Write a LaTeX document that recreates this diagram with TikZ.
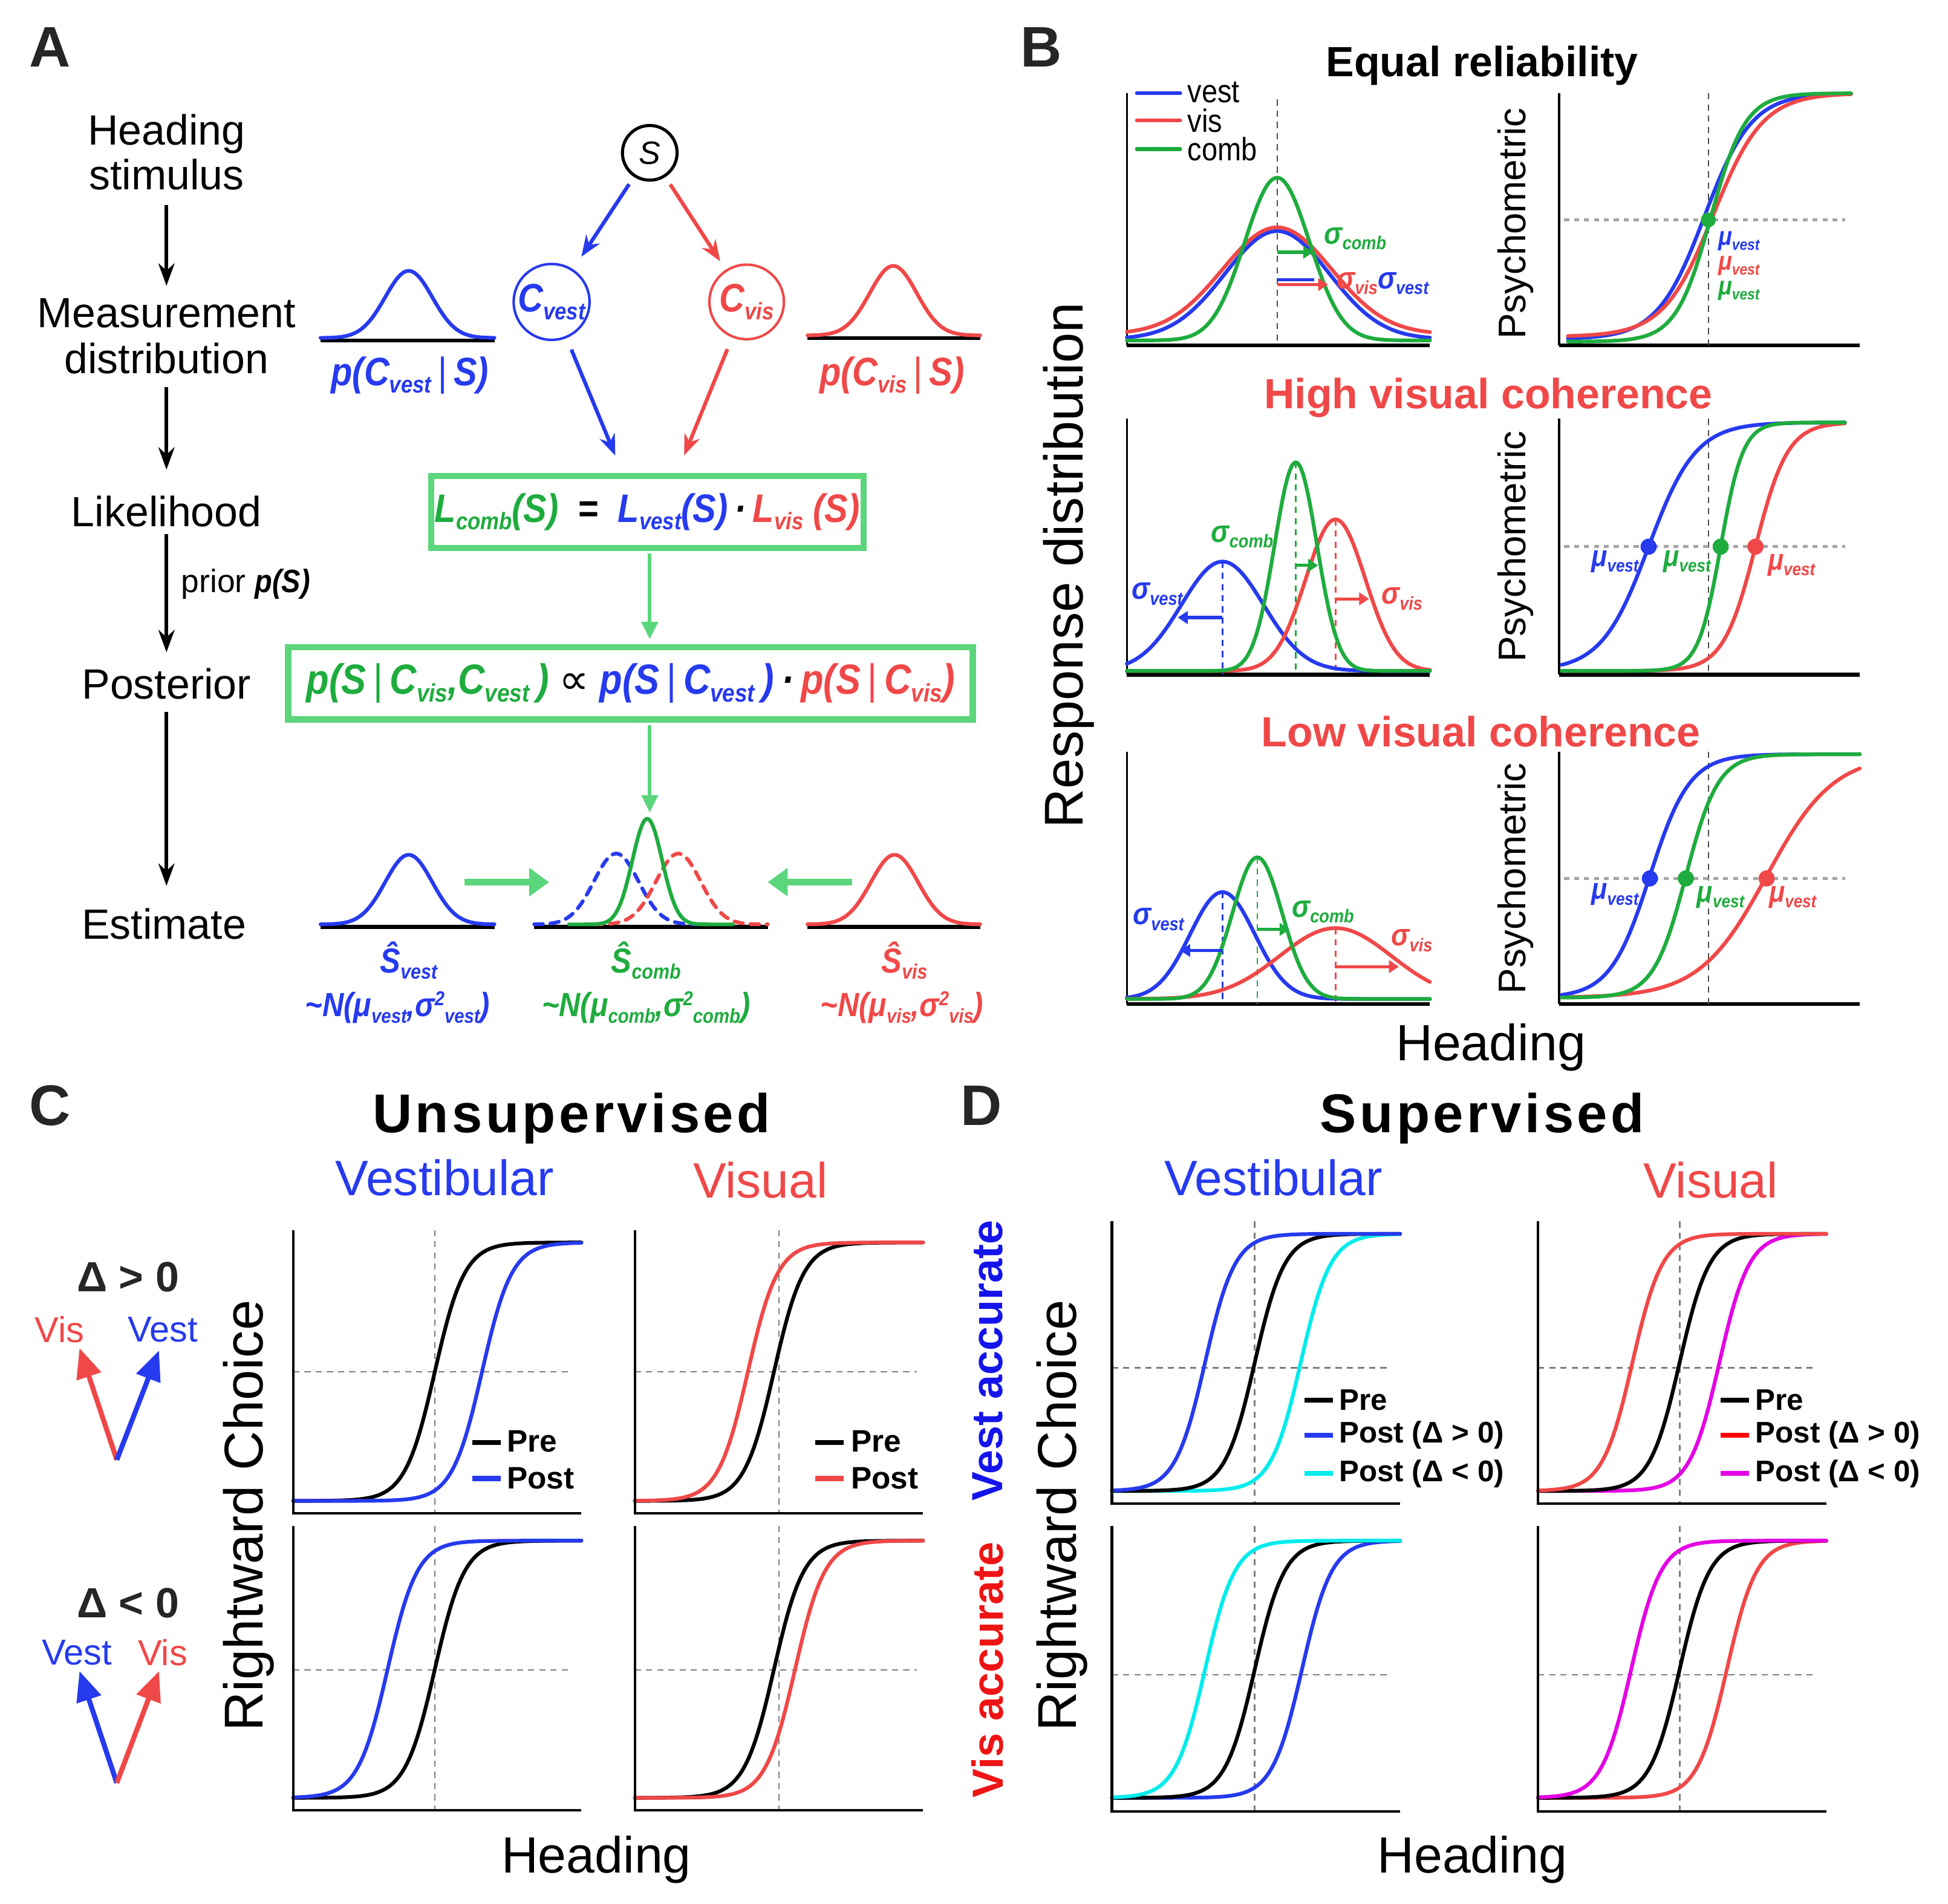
\documentclass[tikz,border=0pt]{standalone}
\usepackage{fontspec}
\usepackage{graphicx}
\setmainfont{Liberation Sans}
\newfontfamily\nbi[FakeStretch=0.88]{Liberation Sans}
\newfontfamily\dvs{DejaVu Sans}
\usetikzlibrary{arrows.meta,calc}
\definecolor{bC}{RGB}{38,58,238}
\definecolor{rC}{RGB}{240,72,72}
\definecolor{gC}{RGB}{30,172,62}
\definecolor{bxG}{RGB}{92,214,124}
\definecolor{cyC}{RGB}{0,236,236}
\definecolor{mgC}{RGB}{228,0,228}
\definecolor{dG}{RGB}{125,125,125}
\definecolor{vB}{RGB}{20,20,235}
\definecolor{vR}{RGB}{238,20,20}
\newcommand\fsz[2]{\fontsize{#1}{#2}\selectfont}
\newcommand\mi{\nbi\bfseries\itshape}
\newcommand\sbx[1]{\raisebox{-0.35ex}{\scalebox{0.6}{#1}}}
\newcommand\spx[1]{\raisebox{0.62ex}{\scalebox{0.6}{#1}}}
\newcommand\vb{{\upshape\mdseries|}}
\tikzset{
 declare function={gs(\t,\m,\s)=exp(-0.5*min(30,((\t-\m)/\s)*((\t-\m)/\s)));
                   sg(\t,\c,\s)=1/(1+exp(-max(-9,min(9,(\t-\c)/\s))));},
 lbl/.style={inner sep=0pt, outer sep=0pt},
 cv/.style={line width=3pt, line cap=round, line join=round},
 axl/.style={line width=1.6pt},
 axt/.style={line width=3pt},
 axc/.style={line width=2pt},
 dsh/.style={dash pattern=on 5pt off 4pt, line width=1.3pt, dG},
 dotl/.style={dash pattern=on 4pt off 4pt, line width=2.5pt, black!35},
 blkarr/.style={line width=3pt, -{Stealth[length=18pt,width=13pt]}},
 carr/.style={line width=3pt, -{Stealth[length=17pt,width=13pt]}},
 garr/.style={line width=3pt, bxG, -{Triangle[length=14pt,width=13pt]}},
 gbig/.style={line width=5pt, bxG, -{Triangle[length=16pt,width=22pt]}},
 sarr/.style={line width=2.5pt, -{Triangle[length=8pt,width=10pt]}},
 bigarr/.style={line width=4pt, -{Triangle[length=24pt,width=20pt]}},
 box/.style={draw=bxG, line width=5pt, inner sep=0pt},
}
\newcommand\gau[7]{\draw[cv,#1] plot[domain=#2:#3,samples=120] (\x,{#4-#5*gs(\x,#6,#7)});}
\newcommand\sgm[7]{\draw[cv,#1] plot[domain=#2:#3,samples=120] (\x,{#4-(#4-#5)*sg(\x,#6,#7)});}
\begin{document}
\begin{tikzpicture}[x=1pt,y=-1pt]
\useasboundingbox (0,0) rectangle (1568,1532);
\fill[white] (0,0) rectangle (1568,1532);
% ================= Panel A =================
\node[lbl,font=\fsz{46}{48}\bfseries,text=black!85] (lA) at (40,38) {A};
\node[lbl,font=\fsz{34}{36},align=center,anchor=north] (hs) at (134,92) {Heading\\stimulus};
\node[lbl,font=\fsz{34}{37},align=center,anchor=north] (ms) at (134,240) {Measurement\\distribution};
\node[lbl,font=\fsz{34}{36},anchor=north] (lk) at (134,399) {Likelihood};
\node[lbl,font=\fsz{34}{36},anchor=north] (po) at (134,538) {Posterior};
\node[lbl,font=\fsz{34}{36},anchor=north] (es) at (132,731) {Estimate};
\draw[blkarr,shorten <=12pt,shorten >=10pt] (hs.south) -- (ms.north);
\draw[blkarr,shorten <=11pt,shorten >=21pt] (ms.south) -- (lk.north);
\draw[blkarr,shorten <=6pt,shorten >=13pt] (lk.south) -- (po.north);
\draw[blkarr,shorten <=10pt,shorten >=18pt] (po.south) -- (po.south |- es.north);
\node[lbl,font=\fsz{26}{28},anchor=west] (pr) at (146,470) {prior {\mi p(S)}};

\node[circle,draw,line width=2.5pt,minimum size=44pt,inner sep=0pt,font=\fsz{26}{28}\itshape] (S) at (523,123) {S};
\node[circle,draw=bC,line width=2pt,minimum size=60pt,inner sep=0pt,text=bC,font=\fsz{32}{34}\mi] (Cv) at (444,243) {C\sbx{vest}};
\node[circle,draw=rC,line width=2pt,minimum size=60pt,inner sep=0pt,text=rC,font=\fsz{32}{34}\mi] (Cr) at (601,243) {C\sbx{vis}};

\node[box,minimum width=348pt,minimum height=58pt,font=\fsz{32}{34}\mi] (b1) at (521,412)
 {{\color{gC}L\sbx{comb}(S)} \ {=} \ {\color{bC}L\sbx{vest}(S)}\,·\,{\color{rC}L\sbx{vis} (S)}};
\node[box,minimum width=551pt,minimum height=58pt,font=\fsz{34}{36}\mi] (b2) at (507.5,550)
 {{\color{gC}p(S\,\vb\,C\sbx{vis},C\sbx{vest}\,)} {\dvs\mdseries\upshape ∝} {\color{bC}p(S\,\vb\,C\sbx{vest}\,)}\,·\,{\color{rC}p(S\,\vb\,C\sbx{vis})}};

\draw[carr,bC,shorten <=7pt,shorten >=12pt] (S) -- (Cv);
\draw[carr,rC,shorten <=7pt,shorten >=8pt] (S) -- (Cr);
\draw[carr,bC,shorten <=10pt,shorten >=15pt] (Cv) -- ([xshift=-20pt]b1.north);
\draw[carr,rC,shorten <=10pt,shorten >=15pt] (Cr) -- ([xshift=24pt]b1.north);
\draw[garr,shorten <=2pt,shorten >=4pt] (b1.south -| 523,0) -- (b2.north -| 523,0);
\coordinate (gtop) at (523,654);
\draw[garr,shorten <=2pt] (b2.south -| gtop) -- (gtop);

% measurement gaussians
\draw[line width=3pt] (258,274) -- (398,274);
\gau{bC}{258}{398}{272}{54}{329}{19}
\draw[line width=3pt] (650,272) -- (789,272);
\gau{rC}{650}{789}{270}{56}{719}{19}
\node[lbl,font=\fsz{32}{34}\mi,text=bC] (pcv) at (330,302) {p(C\sbx{vest}\,\vb\,S)};
\node[lbl,font=\fsz{32}{34}\mi,text=rC] (pcr) at (718,302) {p(C\sbx{vis}\,\vb\,S)};

% estimate gaussians
\draw[line width=3pt] (258,746) -- (398,746);
\gau{bC}{258}{398}{744}{56}{329}{19}
\draw[line width=3pt] (430,746) -- (618,746);
\draw[cv,bC,dash pattern=on 7pt off 6pt] plot[domain=430:565,samples=100] (\x,{744-57*gs(\x,496,18)});
\draw[cv,rC,dash pattern=on 7pt off 6pt] plot[domain=478:618,samples=100] (\x,{744-57*gs(\x,546,18)});
\gau{gC}{458}{590}{744}{85}{521}{12}
\draw[line width=3pt] (650,746) -- (789,746);
\gau{rC}{650}{789}{744}{56}{720}{19}
\coordinate (ea1) at (374,710); \coordinate (ea2) at (442,710);
\coordinate (ea3) at (686,710); \coordinate (ea4) at (618,710);
\draw[gbig] (ea1) -- (ea2);
\draw[gbig] (ea3) -- (ea4);
\node[lbl,font=\fsz{28}{30}\mi,text=bC] (sv) at (329,773) {Ŝ\sbx{vest}};
\node[lbl,font=\fsz{28}{30}\mi,text=gC] (sc) at (520,773) {Ŝ\sbx{comb}};
\node[lbl,font=\fsz{28}{30}\mi,text=rC] (sr) at (728,773) {Ŝ\sbx{vis}};
\node[lbl,font=\fsz{27}{29}\mi,text=bC] (nv) at (320,811) {\textasciitilde N(μ\sbx{vest},σ\spx{2}\sbx{vest})};
\node[lbl,font=\fsz{27}{29}\mi,text=gC] (nc) at (520,811) {\textasciitilde N(μ\sbx{comb},σ\spx{2}\sbx{comb})};
\node[lbl,font=\fsz{27}{29}\mi,text=rC] (nr) at (726,811) {\textasciitilde N(μ\sbx{vis},σ\spx{2}\sbx{vis})};

% ================= Panel B =================
\node[lbl,font=\fsz{46}{48}\bfseries,text=black!85] (lB) at (838,38) {B};
\node[lbl,font=\fsz{34}{36}\bfseries] (t1) at (1193,53) {Equal reliability};
\node[lbl,font=\fsz{34}{36}\bfseries,text=rC] (t2) at (1198,320) {High visual coherence};
\node[lbl,font=\fsz{34}{36}\bfseries,text=rC] (t3) at (1192,589) {Low visual coherence};
\node[lbl,font=\fsz{44}{46},rotate=90] (rd) at (860,455) {Response distribution};
\node[lbl,font=\fsz{31}{33},rotate=90] (ps1) at (1220,180) {Psychometric};
\node[lbl,font=\fsz{31}{33},rotate=90] (ps2) at (1220,440) {Psychometric};
\node[lbl,font=\fsz{31}{33},rotate=90] (ps3) at (1220,707) {Psychometric};
\node[lbl,font=\fsz{41}{43}] (hB) at (1200,843) {Heading};

% B row 1 left
\draw[axl] (907,75) -- (907,278);
\draw[axt] (907,278) -- (1151,278);
\draw[line width=1pt,dash pattern=on 5pt off 4pt,black!70] (1028,80) -- (1028,278);
\gau{bC}{907}{1151}{273}{87}{1028}{42}
\gau{rC}{907}{1151}{269}{86}{1028}{44}
\gau{gC}{907}{1151}{274}{131}{1028}{26}
\draw[cv,bC] (915,75) -- (950,75);
\draw[cv,rC] (915,97) -- (950,97);
\draw[cv,gC] (915,120) -- (950,120);
\node[lbl,font=\fsz{26}{28}\nbi,anchor=west] (lv1) at (956,74) {vest};
\node[lbl,font=\fsz{26}{28}\nbi,anchor=west] (lv2) at (956,97) {vis};
\node[lbl,font=\fsz{26}{28}\nbi,anchor=west] (lv3) at (956,120) {comb};
\draw[sarr,gC] (1028,203) -- (1057,203);
\draw[line width=2.5pt,bC] (1028,225) -- (1058,225);
\draw[sarr,rC] (1028,229) -- (1069,229);
\node[lbl,font=\fsz{25}{27}\mi,text=gC,anchor=west] (sc1) at (1066,192) {σ\sbx{comb}};
\node[lbl,font=\fsz{25}{27}\mi,anchor=west] (sv1) at (1076,228) {{\color{rC}σ\sbx{vis}}{\color{bC}σ\sbx{vest}}};
% B row 1 right
\draw[axl] (1255,75) -- (1255,278);
\draw[axt] (1255,278) -- (1497,278);
\draw[line width=1pt,dash pattern=on 5pt off 4pt,black!70] (1375,75) -- (1375,278);
\draw[dotl] (1259,177) -- (1485,177);
\sgm{bC}{1262}{1490}{273}{75}{1372}{19}
\sgm{rC}{1262}{1490}{271}{75}{1379}{20}
\sgm{gC}{1262}{1490}{275}{75}{1377}{14}
\fill[gC] (1375,177) circle (6pt);
\node[lbl,font=\fsz{21}{23}\mi,text=bC,anchor=west] (m11) at (1383,194) {μ\sbx{vest}};
\node[lbl,font=\fsz{21}{23}\mi,text=rC,anchor=west] (m12) at (1383,214) {μ\sbx{vest}};
\node[lbl,font=\fsz{21}{23}\mi,text=gC,anchor=west] (m13) at (1383,234) {μ\sbx{vest}};

% B row 2 left
\draw[axl] (907,337) -- (907,543);
\draw[axt] (907,543) -- (1151,543);
\draw[line width=1.3pt,dash pattern=on 5pt off 4pt,bC] (984,452) -- (984,543);
\draw[line width=1.3pt,dash pattern=on 5pt off 4pt,gC] (1043,372) -- (1043,543);
\draw[line width=1.3pt,dash pattern=on 5pt off 4pt,rC] (1075,418) -- (1075,543);
\gau{bC}{907}{1151}{540}{88}{984}{33}
\gau{rC}{907}{1151}{540}{122}{1075}{24}
\gau{gC}{907}{1151}{540}{168}{1043}{17}
\draw[sarr,bC] (984,497) -- (948,497);
\draw[sarr,gC] (1043,455) -- (1061,455);
\draw[sarr,rC] (1075,482) -- (1102,482);
\node[lbl,font=\fsz{25}{27}\mi,text=bC,anchor=west] (sv2) at (911,478) {σ\sbx{vest}};
\node[lbl,font=\fsz{25}{27}\mi,text=gC,anchor=west] (sc2) at (975,432) {σ\sbx{comb}};
\node[lbl,font=\fsz{25}{27}\mi,text=rC,anchor=west] (sr2) at (1112,482) {σ\sbx{vis}};
% B row 2 right
\draw[axl] (1255,337) -- (1255,543);
\draw[axt] (1255,543) -- (1497,543);
\draw[line width=1pt,dash pattern=on 5pt off 4pt,black!70] (1375,337) -- (1375,543);
\draw[dotl] (1259,440) -- (1485,440);
\sgm{bC}{1257}{1485}{540}{340}{1327}{19}
\sgm{rC}{1257}{1485}{540}{340}{1413}{13}
\sgm{gC}{1257}{1485}{540}{340}{1385}{9}
\fill[bC] (1327,440) circle (6.5pt);
\fill[gC] (1385,440) circle (6.5pt);
\fill[rC] (1413,440) circle (6.5pt);
\node[lbl,font=\fsz{24}{26}\mi,text=bC] (m21) at (1300,452) {μ\sbx{vest}};
\node[lbl,font=\fsz{24}{26}\mi,text=gC] (m22) at (1358,452) {μ\sbx{vest}};
\node[lbl,font=\fsz{24}{26}\mi,text=rC] (m23) at (1442,455) {μ\sbx{vest}};

% B row 3 left
\draw[axl] (907,605) -- (907,808);
\draw[axt] (907,808) -- (1151,808);
\draw[line width=1.3pt,dash pattern=on 5pt off 4pt,bC] (984,718) -- (984,808);
\draw[line width=1.3pt,dash pattern=on 5pt off 4pt,gC] (1012,690) -- (1012,808);
\draw[line width=1.3pt,dash pattern=on 5pt off 4pt,rC] (1075,747) -- (1075,808);
\gau{bC}{907}{1151}{804}{86}{984}{26}
\gau{rC}{907}{1151}{804}{57}{1075}{45}
\gau{gC}{907}{1151}{804}{114}{1012}{20}
\draw[sarr,bC] (984,765) -- (950,765);
\draw[sarr,gC] (1012,748) -- (1038,748);
\draw[sarr,rC] (1075,778) -- (1126,778);
\node[lbl,font=\fsz{25}{27}\mi,text=bC,anchor=west] (sv3) at (912,740) {σ\sbx{vest}};
\node[lbl,font=\fsz{25}{27}\mi,text=gC,anchor=west] (sc3) at (1040,734) {σ\sbx{comb}};
\node[lbl,font=\fsz{25}{27}\mi,text=rC,anchor=west] (sr3) at (1120,757) {σ\sbx{vis}};
% B row 3 right
\draw[axl] (1255,605) -- (1255,808);
\draw[axt] (1255,808) -- (1497,808);
\draw[line width=1pt,dash pattern=on 5pt off 4pt,black!70] (1375,605) -- (1375,808);
\draw[dotl] (1259,707) -- (1485,707);
\sgm{rC}{1257}{1497}{803}{607}{1422}{27}
\sgm{bC}{1257}{1497}{803}{607}{1328}{16}
\sgm{gC}{1257}{1497}{803}{607}{1357}{13}
\fill[bC] (1328,707) circle (6.5pt);
\fill[gC] (1357,707) circle (6.5pt);
\fill[rC] (1422,707) circle (6.5pt);
\node[lbl,font=\fsz{24}{26}\mi,text=bC] (m31) at (1300,720) {μ\sbx{vest}};
\node[lbl,font=\fsz{24}{26}\mi,text=gC] (m32) at (1385,722) {μ\sbx{vest}};
\node[lbl,font=\fsz{24}{26}\mi,text=rC] (m33) at (1443,722) {μ\sbx{vest}};

% ================= Panel C =================
\node[lbl,font=\fsz{46}{48}\bfseries,text=black!85] (lC) at (40,890) {C};
\node[lbl,font=\fsz{44}{46}\bfseries\addfontfeatures{LetterSpace=6}] (tU) at (460,900) {Unsupervised};
\node[lbl,font=\fsz{40}{42},text=bC] (cvt) at (358,948) {Vestibular};
\node[lbl,font=\fsz{40}{42},text=rC] (cvs) at (612,950) {Visual};
\node[lbl,font=\fsz{44}{46},rotate=90] (rcC) at (200,1220) {Rightward Choice};
\node[lbl,font=\fsz{41}{43}] (hC) at (480,1497) {Heading};
\node[lbl,font=\fsz{34}{36}\bfseries,text=black!85] (dp) at (103,1028) {Δ > 0};
\node[lbl,font=\fsz{29}{31},text=rC] (vis1) at (48,1070) {Vis};
\node[lbl,font=\fsz{29}{31},text=bC] (ves1) at (131,1070) {Vest};
\node[lbl,font=\fsz{34}{36}\bfseries,text=black!85] (dn) at (103,1290) {Δ < 0};
\node[lbl,font=\fsz{29}{31},text=bC] (ves2) at (62,1330) {Vest};
\node[lbl,font=\fsz{29}{31},text=rC] (vis2) at (131,1330) {Vis};
\coordinate (o1) at (94,1175); \coordinate (t1r) at (64,1085); \coordinate (t1b) at (128,1087);
\coordinate (o2) at (94,1435); \coordinate (t2b) at (64,1345); \coordinate (t2r) at (128,1345);
\draw[bigarr,rC] (o1) -- (t1r);
\draw[bigarr,bC] (o1) -- (t1b);
\draw[bigarr,bC] (o2) -- (t2b);
\draw[bigarr,rC] (o2) -- (t2r);
% C top-left
\draw[dsh] (350,990) -- (350,1218);
\draw[dsh] (236,1104) -- (460,1104);
\sgm{black}{236}{468}{1208}{1000}{350}{12}
\sgm{bC}{236}{468}{1208}{1000}{388}{12}
\draw[axc] (236,990) -- (236,1218) -- (468,1218);
\draw[line width=4pt] (380,1161) -- (403,1161);
\draw[line width=4pt,bC] (380,1190) -- (403,1190);
\node[lbl,font=\fsz{25}{27}\bfseries,anchor=west] (cp1) at (408,1160) {Pre};
\node[lbl,font=\fsz{25}{27}\bfseries,anchor=west] (cq1) at (408,1190) {Post};
% C top-right
\draw[dsh] (627,990) -- (627,1218);
\draw[dsh] (511,1104) -- (738,1104);
\sgm{black}{511}{743}{1208}{1000}{623}{12}
\sgm{rC}{511}{743}{1208}{1000}{602}{12}
\draw[axc] (511,990) -- (511,1218) -- (743,1218);
\draw[line width=4pt] (656,1161) -- (679,1161);
\draw[line width=4pt,rC] (656,1190) -- (679,1190);
\node[lbl,font=\fsz{25}{27}\bfseries,anchor=west] (cp2) at (685,1160) {Pre};
\node[lbl,font=\fsz{25}{27}\bfseries,anchor=west] (cq2) at (685,1190) {Post};
% C bottom-left
\draw[dsh] (350,1228) -- (350,1457);
\draw[dsh] (236,1344) -- (460,1344);
\sgm{black}{236}{468}{1447}{1240}{350}{12}
\sgm{bC}{236}{468}{1447}{1240}{312}{12}
\draw[axc] (236,1228) -- (236,1457) -- (468,1457);
% C bottom-right
\draw[dsh] (627,1228) -- (627,1457);
\draw[dsh] (511,1344) -- (738,1344);
\sgm{black}{511}{743}{1447}{1240}{623}{12}
\sgm{rC}{511}{743}{1447}{1240}{640}{12}
\draw[axc] (511,1228) -- (511,1457) -- (743,1457);

% ================= Panel D =================
\node[lbl,font=\fsz{46}{48}\bfseries,text=black!85] (lD) at (790,890) {D};
\node[lbl,font=\fsz{44}{46}\bfseries\addfontfeatures{LetterSpace=6}] (tS) at (1193,900) {Supervised};
\node[lbl,font=\fsz{40}{42},text=bC] (dvt) at (1025,948) {Vestibular};
\node[lbl,font=\fsz{40}{42},text=rC] (dvs) at (1377,950) {Visual};
\node[lbl,font=\fsz{35}{37}\bfseries,text=vB,rotate=90] (va) at (795,1095) {Vest accurate};
\node[lbl,font=\fsz{35}{37}\bfseries,text=vR,rotate=90] (ra) at (795,1344) {Vis accurate};
\node[lbl,font=\fsz{44}{46},rotate=90] (rcD) at (855,1220) {Rightward Choice};
\node[lbl,font=\fsz{41}{43}] (hD) at (1185,1497) {Heading};
% D top-left
\draw[dsh] (1010,983) -- (1010,1210);
\draw[dsh] (895,1101) -- (1120,1101);
\sgm{cyC}{895}{1127}{1200}{993}{1047}{12}
\sgm{black}{895}{1127}{1200}{993}{1010}{12}
\sgm{bC}{895}{1127}{1200}{993}{970}{12}
\draw[axc] (895,983) -- (895,1210) -- (1127,1210);
\draw[line width=4pt] (1050,1127) -- (1073,1127);
\draw[line width=4pt,bC] (1050,1155) -- (1073,1155);
\draw[line width=4pt,cyC] (1050,1186) -- (1073,1186);
\node[lbl,font=\fsz{24}{26}\bfseries,anchor=west] (dp1) at (1078,1127) {Pre};
\node[lbl,font=\fsz{24}{26}\bfseries,anchor=west] (dq1) at (1078,1155) {Post (Δ > 0)};
\node[lbl,font=\fsz{24}{26}\bfseries,anchor=west] (dr1) at (1078,1186) {Post (Δ < 0)};
% D top-right
\draw[dsh] (1352,983) -- (1352,1210);
\draw[dsh] (1238,1101) -- (1463,1101);
\sgm{mgC}{1238}{1470}{1200}{993}{1384}{12}
\sgm{black}{1238}{1470}{1200}{993}{1352}{12}
\sgm{rC}{1238}{1470}{1200}{993}{1314}{12}
\draw[axc] (1238,983) -- (1238,1210) -- (1470,1210);
\draw[line width=4pt] (1385,1127) -- (1408,1127);
\draw[line width=4pt,red] (1385,1155) -- (1408,1155);
\draw[line width=4pt,mgC] (1385,1186) -- (1408,1186);
\node[lbl,font=\fsz{24}{26}\bfseries,anchor=west] (dp2) at (1413,1127) {Pre};
\node[lbl,font=\fsz{24}{26}\bfseries,anchor=west] (dq2) at (1413,1155) {Post (Δ > 0)};
\node[lbl,font=\fsz{24}{26}\bfseries,anchor=west] (dr2) at (1413,1186) {Post (Δ < 0)};
% D bottom-left
\draw[dsh] (1010,1228) -- (1010,1458);
\draw[dsh] (895,1348) -- (1120,1348);
\sgm{bC}{895}{1127}{1447}{1240}{1048}{12}
\sgm{black}{895}{1127}{1447}{1240}{1010}{12}
\sgm{cyC}{895}{1127}{1447}{1240}{970}{12}
\draw[axc] (895,1228) -- (895,1458) -- (1127,1458);
% D bottom-right
\draw[dsh] (1352,1228) -- (1352,1458);
\draw[dsh] (1238,1348) -- (1463,1348);
\sgm{rC}{1238}{1470}{1447}{1240}{1390}{12}
\sgm{black}{1238}{1470}{1447}{1240}{1352}{12}
\sgm{mgC}{1238}{1470}{1447}{1240}{1313}{12}
\draw[axc] (1238,1228) -- (1238,1458) -- (1470,1458);
\end{tikzpicture}
\end{document}
